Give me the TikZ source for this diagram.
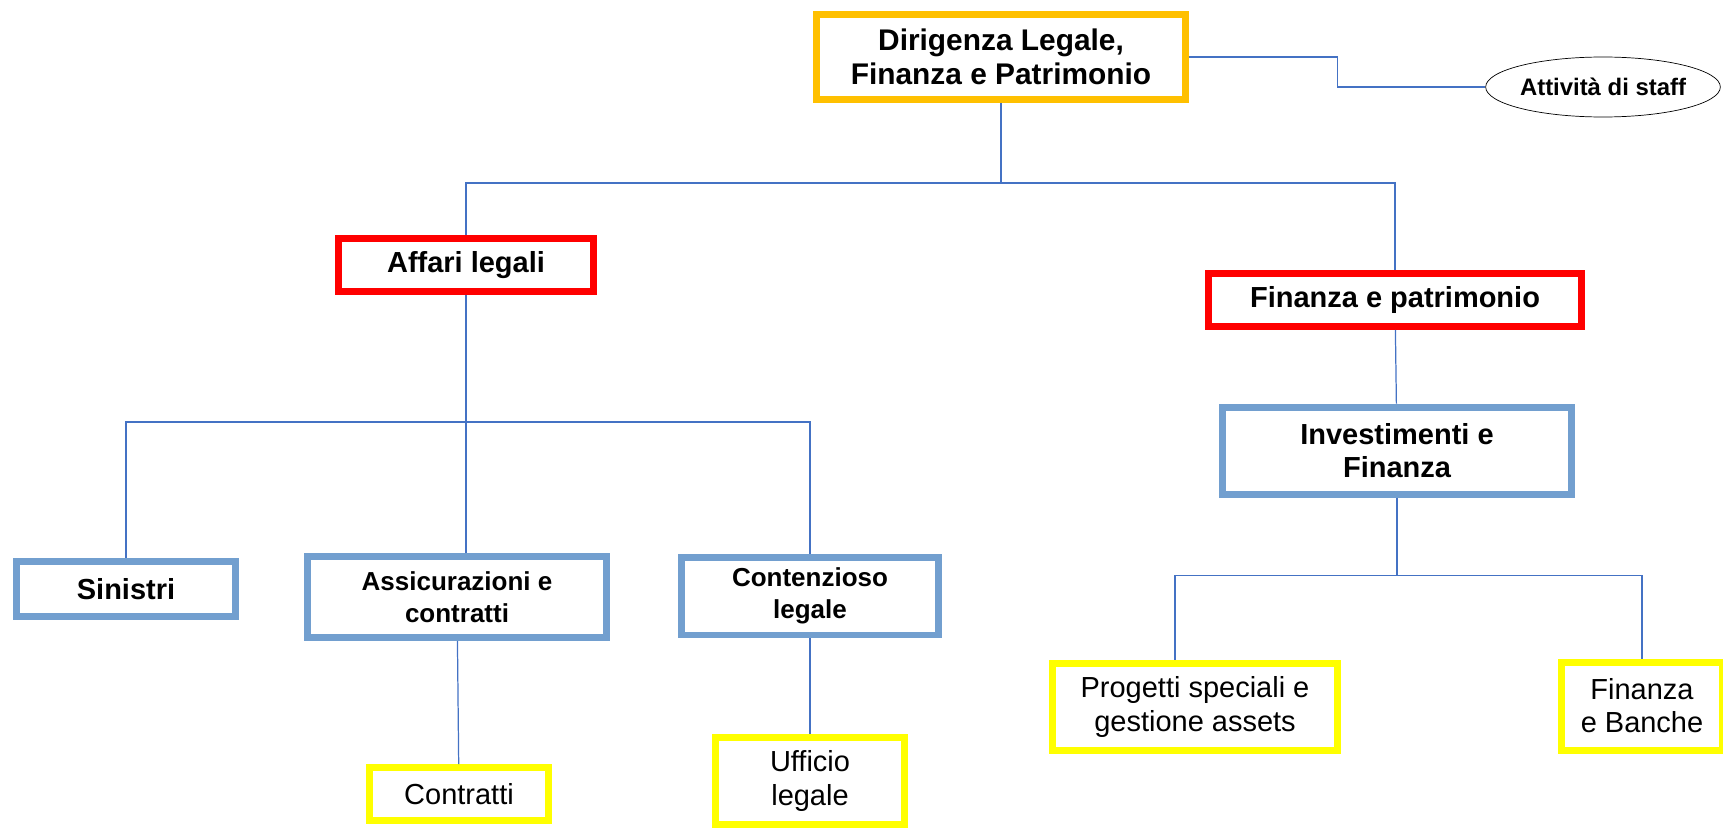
\documentclass[tikz,border=0pt]{standalone}
\usepackage{fontspec}
\setmainfont{Liberation Sans}
\usetikzlibrary{shapes.geometric}
\definecolor{boxorange}{RGB}{255,192,0}
\definecolor{boxred}{RGB}{255,0,0}
\definecolor{boxblue}{RGB}{114,159,207}
\definecolor{boxyellow}{RGB}{255,255,0}
\definecolor{linkblue}{RGB}{68,114,196}
\begin{document}
\begin{tikzpicture}[x=0.02cm,y=-0.02cm,
      unit box/.style={rectangle,draw,line width=0.14cm,inner sep=0pt,align=center,fill=white},
      head box/.style={unit box,draw=boxorange,font=\fontsize{17}{19.3}\selectfont\bfseries},
      area box/.style={unit box,draw=boxred,font=\fontsize{16.5}{18.8}\selectfont\bfseries},
      office box/.style={unit box,draw=boxblue,font=\fontsize{16.5}{18.8}\selectfont\bfseries},
      desk box/.style={unit box,draw=boxyellow,font=\fontsize{16.5}{18.8}\selectfont},
      staff node/.style={ellipse,draw,thin,inner sep=0pt,font=\fontsize{13.6}{16}\selectfont\bfseries},
      link/.style={linkblue,line width=0.7pt}]
      \useasboundingbox (0,0) rectangle (1723,828);

      \node[head box,minimum width=7.40cm,minimum height=1.70cm] (dir) at (1001,57) {Dirigenza Legale,\\Finanza e Patrimonio};
      \node[staff node,minimum width=4.56cm,minimum height=1.20cm] (staff) at (1603,87) {Attività di staff};

      \node[area box,minimum width=5.10cm,minimum height=1.06cm] (affari) at (466,265) {Affari legali};
      \node[area box,minimum width=7.48cm,minimum height=1.06cm] (finpat) at (1395,300) {Finanza e patrimonio};

      \node[office box,minimum width=4.38cm,minimum height=1.10cm] (sinistri) at (126,589) {Sinistri};
      \node[office box,minimum width=6.00cm,minimum height=1.62cm,font=\fontsize{14.8}{18.2}\selectfont\bfseries] (assic) at (457,597) {Assicurazioni e\\contratti};
      \node[office box,minimum width=5.16cm,minimum height=1.56cm,font=\fontsize{14.8}{18.2}\selectfont\bfseries] (contenz) at (810,596) {Contenzioso\\legale};
      \node[office box,minimum width=6.98cm,minimum height=1.76cm] (invest) at (1397,451) {Investimenti e\\Finanza};

      \node[desk box,minimum width=3.60cm,minimum height=1.06cm] (contratti) at (459,794) {Contratti};
      \node[desk box,minimum width=3.78cm,minimum height=1.74cm] (ufficio) at (810,781) {Ufficio\\legale};
      \node[desk box,minimum width=5.70cm,minimum height=1.74cm] (progetti) at (1195,707) {Progetti speciali e\\gestione assets};
      \node[desk box,minimum width=3.22cm,minimum height=1.76cm] (finbanche) at (1642,706) {Finanza\\e Banche};

      % collegamenti
      \draw[link] (dir.east) -- ++(148,0) |- (staff.west);
      \draw[link] (dir.south) -- ++(0,80) coordinate (topbus) -| (affari.north);
      \draw[link] (topbus) -| (finpat.north);
      \draw[link] (affari.south) -- ++(0,127) coordinate (legbus) -| (sinistri.north);
      \draw[link] (legbus) -- (legbus |- assic.north);
      \draw[link] (legbus) -| (contenz.north);
      \draw[link] (invest.south) -- ++(0,77) coordinate (finbus) -| ([xshift=-0.4cm]progetti.north);
      \draw[link] (finbus) -| (finbanche.north);

      \path[link]
        (finpat) edge (invest)
        (assic) edge (contratti)
        (contenz) edge (ufficio);
    \end{tikzpicture}
\end{document}
